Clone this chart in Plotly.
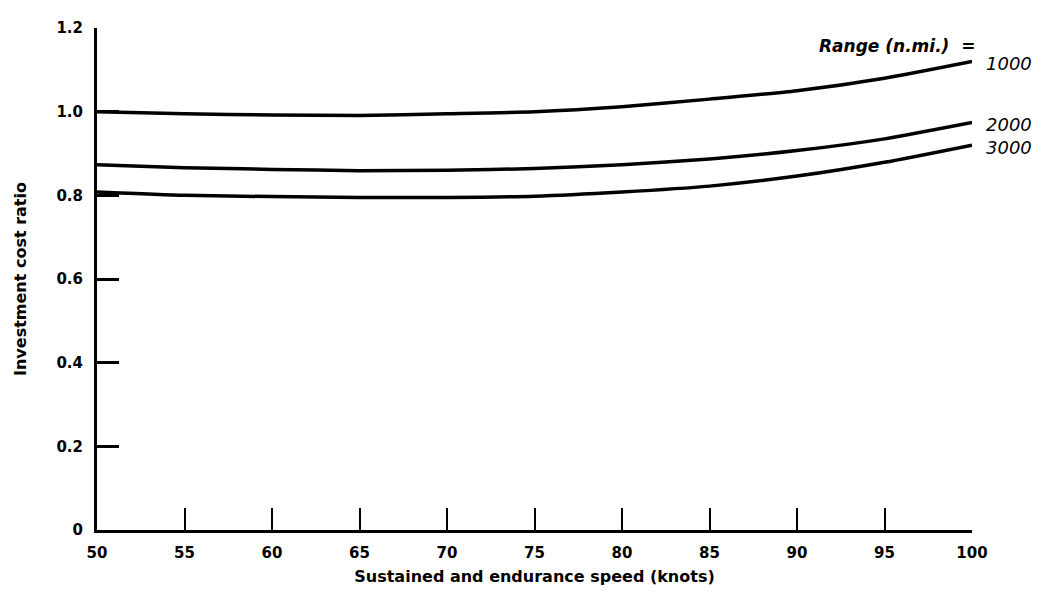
import plotly.graph_objects as go

speed = [50, 55, 60, 65, 70, 75, 80, 85, 90, 95, 100]
range_1000 = [1.000, 0.995, 0.992, 0.991, 0.995, 1.000, 1.012, 1.030, 1.050, 1.080, 1.120]
range_2000 = [0.873, 0.866, 0.862, 0.859, 0.860, 0.864, 0.873, 0.887, 0.907, 0.935, 0.974]
range_3000 = [0.808, 0.800, 0.797, 0.795, 0.795, 0.798, 0.808, 0.822, 0.846, 0.879, 0.920]
series_names = ["1000", "2000", "3000"]
x_ticks = [50, 55, 60, 65, 70, 75, 80, 85, 90, 95, 100]
x_ticktext = ["50", "55", "60", "65", "70", "75", "80", "85", "90", "95", "100"]
y_ticks = [0, 0.2, 0.4, 0.6, 0.8, 1.0, 1.2]
y_ticktext = ["0", "0.2", "0.4", "0.6", "0.8", "1.0", "1.2"]

FONT = "DejaVu Sans"

fig = go.Figure()
for name, vals in zip(series_names, [range_1000, range_2000, range_3000]):
    fig.add_trace(go.Scatter(
        x=speed, y=vals, mode="lines", name=name,
        line=dict(color="black", width=3.5, shape="spline", smoothing=0.6),
        showlegend=False, hoverinfo="skip", cliponaxis=False,
    ))
    fig.add_annotation(
        x=speed[-1], y=vals[-1], xref="x", yref="y",
        text="<i>" + name + "</i>", showarrow=False,
        xanchor="left", yanchor="middle", xshift=12, yshift=-2,
        font=dict(family=FONT, size=18, color="black"),
    )

fig.add_annotation(
    x=100, y=1.157, xref="x", yref="y",
    text="<b><i>Range (n.mi.)  =</i></b>", showarrow=False,
    xanchor="right", yanchor="middle", xshift=5,
    font=dict(family=FONT, size=17, color="black"),
)

fig.update_xaxes(
    range=[50, 100], tickmode="array", tickvals=x_ticks, ticktext=x_ticktext,
    ticks="inside", ticklen=22, tickwidth=2, tickcolor="black",
    showline=True, linecolor="black", linewidth=3, mirror=False,
    showgrid=False, zeroline=False, ticklabelstandoff=7,
    tickfont=dict(family=FONT, size=15, color="black", weight="bold"),
    title=dict(text="Sustained and endurance speed (knots)",
               font=dict(family=FONT, size=16, color="black", weight="bold"),
               standoff=10),
)
fig.update_yaxes(
    range=[0, 1.2], tickmode="array", tickvals=y_ticks, ticktext=y_ticktext,
    ticks="inside", ticklen=22, tickwidth=2.5, tickcolor="black",
    showline=True, linecolor="black", linewidth=3, mirror=False,
    showgrid=False, zeroline=False, ticklabelstandoff=8,
    tickfont=dict(family=FONT, size=15, color="black", weight="bold"),
    title=dict(text="Investment cost ratio",
               font=dict(family=FONT, size=16, color="black", weight="bold"),
               standoff=26),
)

fig.update_layout(
    width=1032, height=597,
    margin=dict(l=84, r=68, t=11, b=75),
    paper_bgcolor="white", plot_bgcolor="white",
)

fig.write_html("out.html")
